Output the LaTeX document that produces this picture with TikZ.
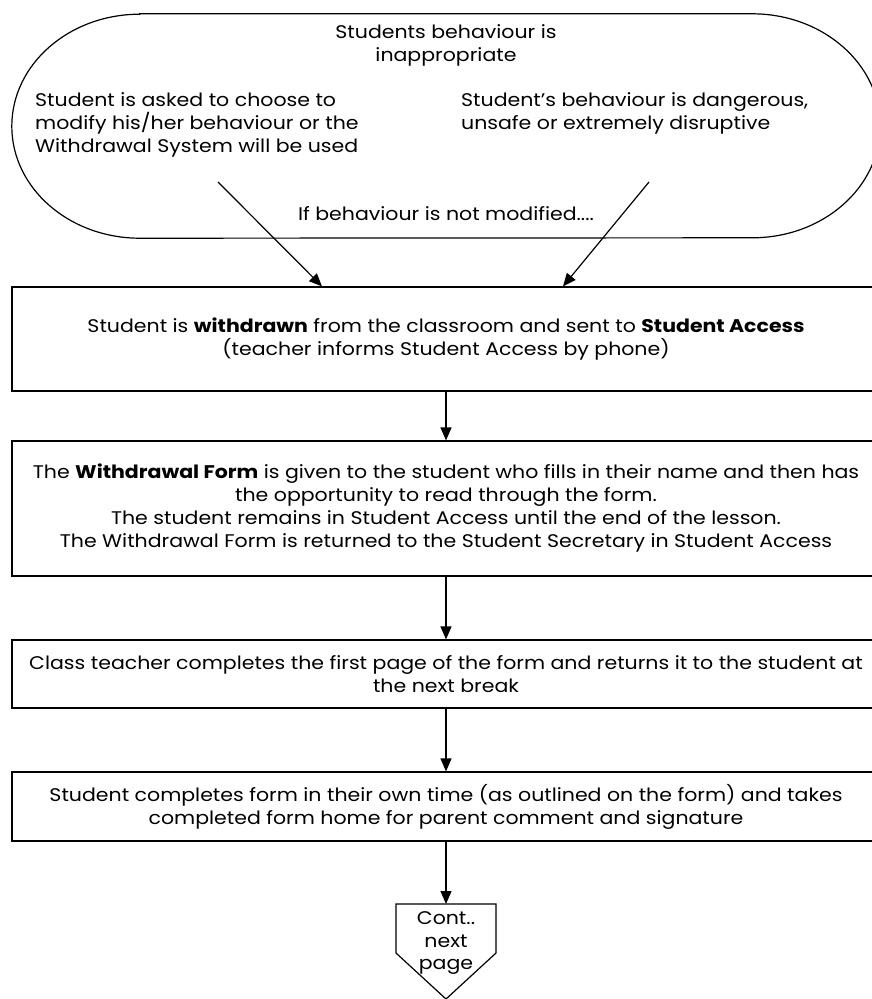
\documentclass[tikz,border=0pt]{standalone}
\usepackage{fontspec}
\setmainfont{Poppins}[FakeStretch=1.12]
\usepackage{tikz}
\usetikzlibrary{arrows.meta}

\tikzset{
  stepbox/.style={draw, line width=1.2pt, minimum width=868pt, align=center, inner sep=0pt},
  flow/.style={line width=1.2pt, -{Triangle[length=13pt, width=11pt]}},
  txt/.style={inner sep=0pt},
}

\begin{document}
\begin{tikzpicture}[x=1pt, y=1pt, font=\fontsize{18.3}{23}\selectfont]
\useasboundingbox (0,0) rectangle (872,-999);
\clip (0,0) rectangle (872,-999);

% Start terminator
\node[minimum width=868pt, minimum height=224pt, inner sep=0pt] (start) at (446,-126) {};
\draw[line width=1.2pt] ([xshift=128pt]start.north west) -- ([xshift=-128pt]start.north east)
  arc[start angle=90, end angle=-90, x radius=128pt, y radius=112pt]
  -- ([xshift=128pt]start.south west)
  arc[start angle=270, end angle=90, x radius=128pt, y radius=112pt] -- cycle;

\node[txt, align=center] (title) at (446,-45) {Students behaviour is\\inappropriate};
\node[txt, align=left, anchor=west] (choose) at (35,-125) {Student is asked to choose to\\modify his/her behaviour or the\\Withdrawal System will be used};
\node[txt, align=left, anchor=west] (danger) at (461,-113) {Student’s behaviour is dangerous,\\unsafe or extremely disruptive};
\node[txt] (ifnot) at (446,-214) {If behaviour is not modified....};

% Arrow starts
\coordinate (from1) at (218,-182);
\coordinate (from2) at (649,-182);

% Steps
\node[stepbox, minimum height=104pt] (box1) at (446,-339) {Student is \textbf{withdrawn} from the classroom and sent to \textbf{Student Access}\\(teacher informs Student Access by phone)};
\node[stepbox, minimum height=135pt] (box2) at (446,-508.5) {The \textbf{Withdrawal Form} is given to the student who fills in their name and then has\\the opportunity to read through the form.\\The student remains in Student Access until the end of the lesson.\\The Withdrawal Form is returned to the Student Secretary in Student Access};
\node[stepbox, minimum height=68pt] (box3) at (446,-674) {Class teacher completes the first page of the form and returns it to the student at\\the next break};
\node[stepbox, minimum height=69pt] (box4) at (446,-806.5) {Student completes form in their own time (as outlined on the form) and takes\\completed form home for parent comment and signature};

% Off-page connector
\coordinate (conttop) at (446,-904);
\draw[line width=1.2pt] (396,-904) -- (496,-904) -- (496,-953) -- (446,-999) -- (396,-953) -- cycle;
\node[txt, align=center, font=\fontsize{18.3}{22.5}\selectfont] (cont) at (446,-943) {Cont..\\next\\page};

% Connectors
\draw[flow] (from1) -- (box1.north -| 322,0);
\draw[flow] (from2) -- (box1.north -| 563,0);
\foreach \a/\b in {box1/box2, box2/box3, box3/box4} {
    \draw[flow] (\a) -- (\b);
}
\draw[flow] (box4) -- (conttop);
\end{tikzpicture}
\end{document}
